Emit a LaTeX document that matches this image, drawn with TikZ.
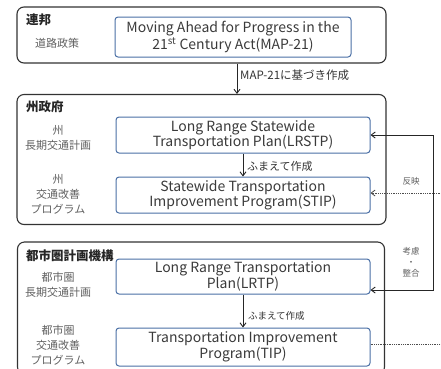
\documentclass[tikz,border=0pt]{standalone}
\usepackage{fontspec}
\setmainfont{Noto Sans CJK JP}
\usetikzlibrary{arrows.meta}
\definecolor{bluebd}{HTML}{4A6FA5}
\definecolor{txt}{HTML}{3A3A3A}
\definecolor{lbl}{HTML}{606060}
\tikzset{
  outerbox/.style={draw=black!80, line width=1.1pt, rounded corners=7pt, anchor=center, inner sep=0pt},
  innerbox/.style={draw=bluebd, line width=1pt, rounded corners=3pt, anchor=center, align=center, text=txt, font=\fontsize{14}{14.5}\selectfont, inner sep=0pt},
  ttl/.style={anchor=west, text=black!85, font=\fontsize{12.5}{14}\selectfont\bfseries, inner sep=0pt},
  side/.style={anchor=center, align=center, text=lbl, font=\fontsize{11}{15}\selectfont, inner sep=0pt},
  small/.style={anchor=west, text=black!80, inner sep=0pt},
  arr/.style={-{Straight Barb[length=4pt,width=6pt]}, line width=0.9pt, draw=black!85},
  darr/.style={-{Straight Barb[length=4pt,width=6pt]}, line width=0.8pt, draw=black!70, densely dotted},
}
\begin{document}
\begin{tikzpicture}[x=1pt,y=-1pt]
\useasboundingbox (0,0) rectangle (441,368);
\clip (0,0) rectangle (441,368);
% outer boxes
\node[outerbox, minimum width=369pt, minimum height=56pt] (fed) at (201.5,35) {};
\node[outerbox, minimum width=369pt, minimum height=130pt] (state) at (201.5,159.5) {};
\node[outerbox, minimum width=367pt, minimum height=132pt] (mpo) at (201,308) {};
% titles
\node[ttl] (t1) at (26,20) {連邦};
\node[ttl] (t2) at (26,107) {州政府};
\node[ttl] (t3) at (26,256) {都市圏計画機構};
% side labels
\node[side] (s0) at (57,43) {道路政策};
\node[side] (s1) at (58,138) {州\\長期交通計画};
\node[side] (s2) at (58,194) {州\\交通改善\\プログラム};
\node[side] (s3) at (58,285) {都市圏\\長期交通計画};
\node[side] (s4) at (58,345) {都市圏\\交通改善\\プログラム};
% inner boxes
\node[innerbox, minimum width=236pt, minimum height=40pt] (map) at (233,37) {Moving Ahead for Progress in the\\21\textsuperscript{st} Century Act(MAP-21)};
\node[innerbox, minimum width=254pt, minimum height=36pt] (lrstp) at (243,135) {Long Range Statewide\\Transportation Plan(LRSTP)};
\node[innerbox, minimum width=254pt, minimum height=36pt] (stip) at (243,195) {Statewide Transportation\\Improvement Program(STIP)};
\node[innerbox, minimum width=254pt, minimum height=35pt] (lrtp) at (243,276.5) {Long Range Transportation\\Plan(LRTP)};
\node[innerbox, minimum width=254pt, minimum height=38pt] (tip) at (243,347) {Transportation Improvement\\Program(TIP)};
% MAP-21 arrow
\coordinate (mx) at (237,0);
\draw[arr] (fed.south -| mx) -- (state.north -| mx);
\node[small, font=\fontsize{11.5}{12}\selectfont] (l1) at (240,75) {MAP-21に基づき作成};
% inner arrows
\draw[arr] (lrstp.south) -- (stip.north);
\node[small, font=\fontsize{11}{12}\selectfont] (l2) at (247,166) {ふまえて作成};
\draw[arr] (lrtp.south) -- (tip.north);
\node[small, font=\fontsize{9.5}{11}\selectfont] (l3) at (248,316) {ふまえて作成};
% right connector
\coordinate (r1) at (433,135);
\coordinate (r2) at (433,290);
\draw[arr] (r1) -- (lrstp.east);
\draw[arr] (r1) -- (r2) -- (lrtp.east |- r2);
\coordinate (d1) at (442,193);
\draw[darr] (d1) -- (stip.east |- d1);
\coordinate (d2) at (442,344);
\draw[densely dotted, line width=0.8pt, draw=black!70] (tip.east |- d2) -- (d2);
% right labels
\node[side, font=\fontsize{8.5}{10}\selectfont] (k1) at (411,181) {反映};
\node[side, font=\fontsize{8.5}{11}\selectfont] (k2) at (411,262) {考慮\\・\\整合};
\end{tikzpicture}
\end{document}
